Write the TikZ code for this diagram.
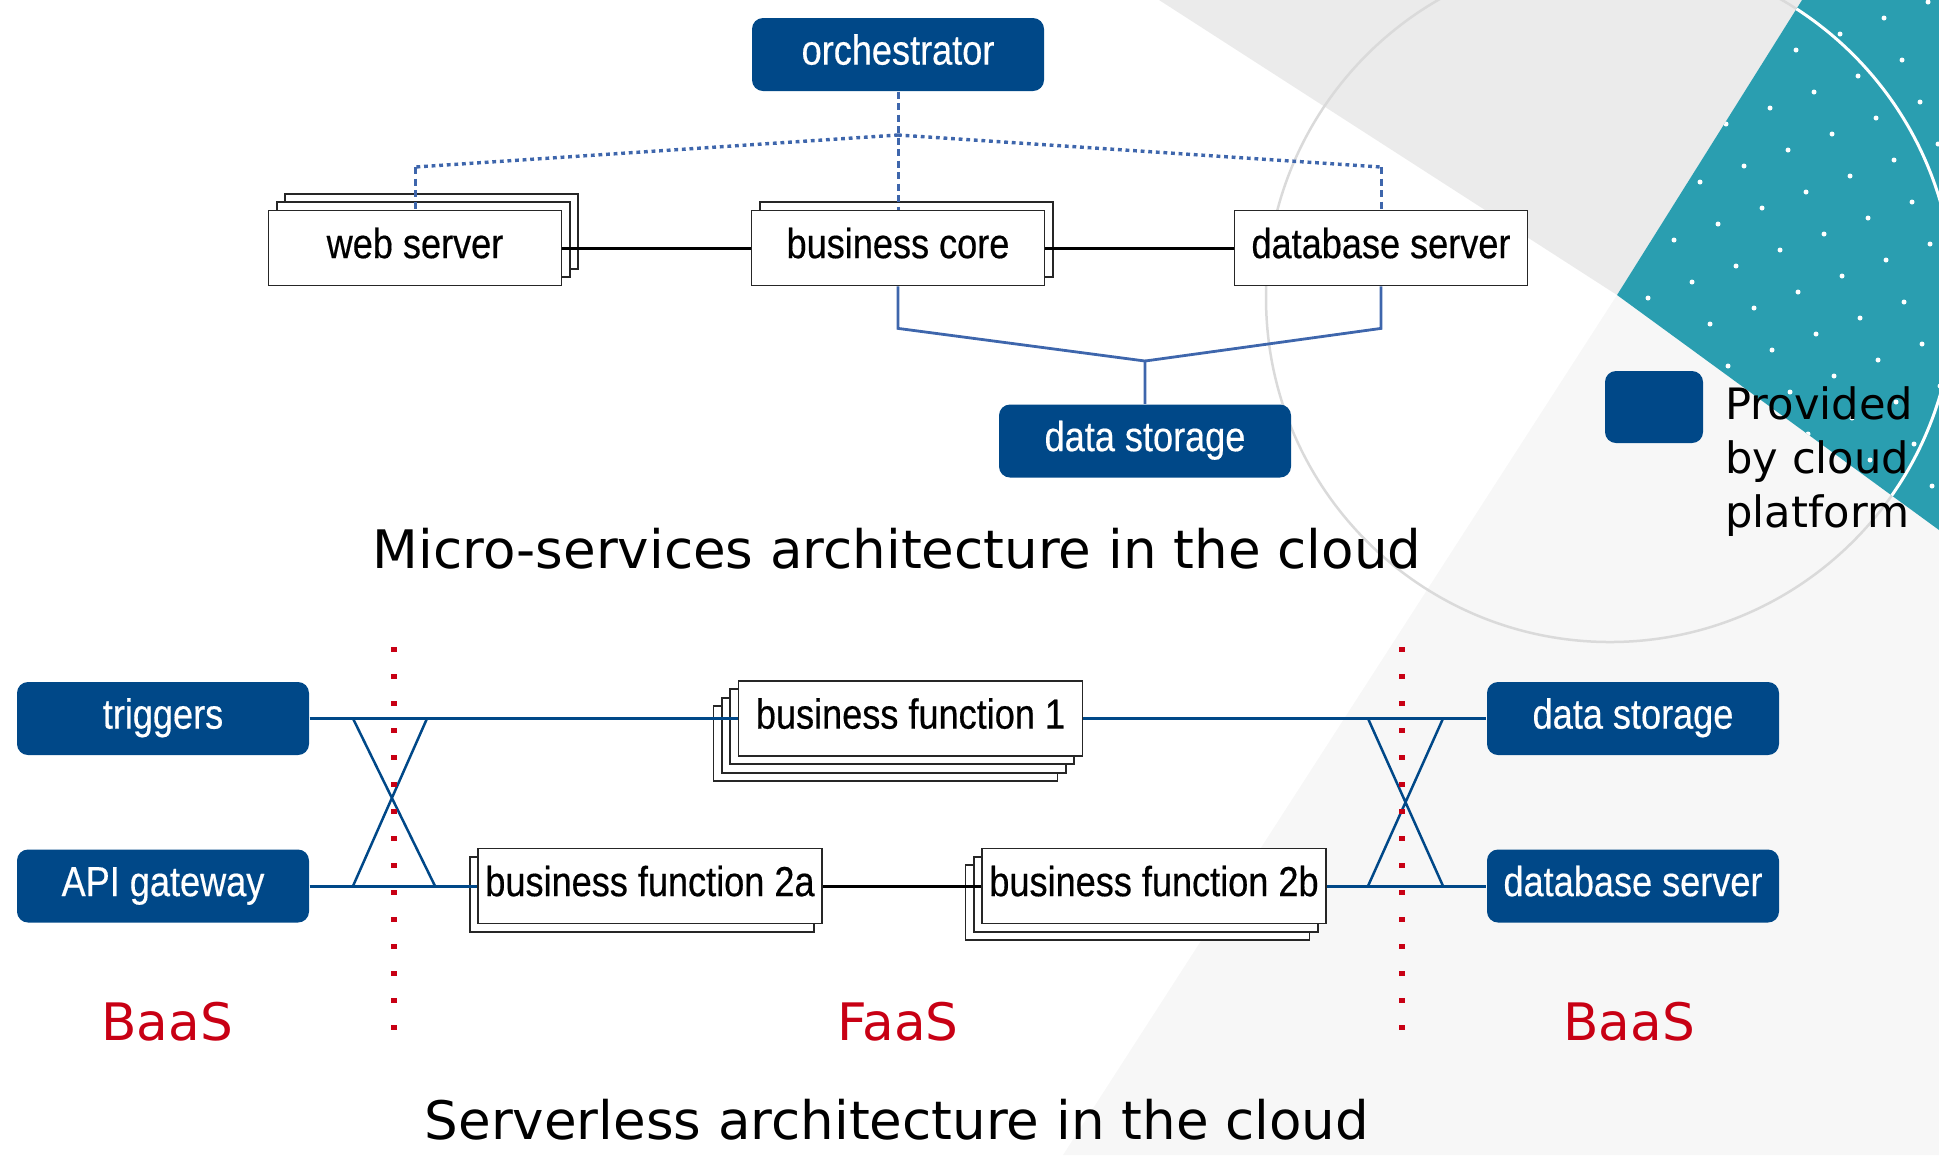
\documentclass[tikz,border=0pt]{standalone}
\usepackage{fontspec}
\setmainfont{DejaVu Sans}
\newfontfamily\narrowfont[FakeStretch=0.86,FakeBold=0.4]{Liberation Sans}
\usetikzlibrary{shadows}
\definecolor{cloudblue}{RGB}{0,72,136}
\definecolor{linkblue}{RGB}{62,102,172}
\definecolor{baasred}{RGB}{200,0,20}
\definecolor{wedgeteal}{RGB}{42,158,176}
\definecolor{paleback}{RGB}{247,247,247}
\definecolor{topgrey}{RGB}{235,235,235}
\definecolor{ringgrey}{RGB}{218,218,218}
\newcommand\boxtext{\narrowfont\fontsize{11.95pt}{14pt}\selectfont}
\tikzstyle{box} = [draw=black!85, fill=white, line width=0.5pt, minimum width=29.3mm, minimum height=7.5mm, inner sep=0pt, font=\boxtext, text height=3.07mm, text depth=1.05mm]
\tikzstyle{wide} = [box, minimum width=34.4mm]
\tikzstyle{cloud} = [fill=cloudblue, text=white, rounded corners=1.1mm, minimum width=29.2mm, minimum height=7.3mm, inner sep=0pt, font=\boxtext, text height=3.07mm, text depth=1.05mm]
\tikzstyle{up1} = [copy shadow={shadow xshift=0.83mm, shadow yshift=0.83mm}]
\tikzstyle{up2} = [copy shadow={shadow xshift=1.66mm, shadow yshift=1.66mm}, copy shadow={shadow xshift=0.83mm, shadow yshift=0.83mm}]
\tikzstyle{down1} = [copy shadow={shadow xshift=-0.83mm, shadow yshift=-0.83mm}]
\tikzstyle{down2} = [copy shadow={shadow xshift=-1.66mm, shadow yshift=-1.66mm}, down1]
\tikzstyle{down3} = [copy shadow={shadow xshift=-2.49mm, shadow yshift=-2.49mm}, down2]
\tikzstyle{ctrl} = [draw=linkblue, line width=0.3mm, dash pattern=on 0.7mm off 0.45mm]
\tikzstyle{ctrlfine} = [draw=linkblue, line width=0.34mm, dash pattern=on 0.38mm off 0.38mm]
\tikzstyle{storage} = [draw=linkblue, line width=0.28mm]
\tikzstyle{call} = [draw=black, line width=0.3mm]
\tikzstyle{flow} = [draw=cloudblue, line width=0.3mm]
\tikzstyle{cross} = [draw=cloudblue, line width=0.25mm]
\tikzstyle{sep} = [draw=baasred, line width=0.55mm, dash pattern=on 0.5mm off 2.2mm]
\tikzstyle{caption} = [font=\fontsize{15.1pt}{18pt}\selectfont, anchor=base]
\tikzstyle{tier} = [font=\fontsize{14.7pt}{18pt}\selectfont, text=baasred, anchor=base]

\begin{document}
\begin{tikzpicture}[x=0.1mm,y=-0.1mm]
  \useasboundingbox (0,0) rectangle (1939,1155);
  \fill[paleback] (1617,295) -- (1939,530) -- (1939,1155) -- (1063,1155) -- cycle;
  \fill[topgrey] (1159,0) -- (1802,0) -- (1617,295) -- cycle;
  \draw[ringgrey, line width=0.25mm] (1610,298) circle (34.4mm);
  \begin{scope}
    \clip (1802,0) -- (1939,0) -- (1939,530) -- (1617,295) -- cycle;
    \fill[wedgeteal] (1600,0) rectangle (1939,540);
    \foreach \i in {-8,...,8}
      \foreach \j in {-8,...,8}
        \fill[white] ({1780+\i*44+\j*18},{250-\i*16+\j*42}) circle (0.25mm);
    \draw[white, line width=0.3mm] (1610,298) circle (34.4mm);
  \end{scope}

  \node (a) at (898,54.5) [cloud] {orchestrator};
  \node (b) at (415,248) [box, up2] {web server};
  \node (c) at (898,248) [box, up1] {business core};
  \node (d) at (1381,248) [box] {database server};
  \node (e) at (1145,441) [cloud] {data storage};
  \node (f) at (163,718.5) [cloud] {triggers};
  \node (g) at (163,886) [cloud] {API gateway};
  \node (h) at (910.5,718.5) [wide, down3] {business function 1};
  \node (i) at (650,886) [wide, down1] {business function 2a};
  \node (j) at (1154,886) [wide, down2] {business function 2b};
  \node (k) at (1633,718.5) [cloud] {data storage};
  \node (l) at (1633,886) [cloud] {database server};
  \node (m) at (1654,407) [cloud, minimum width=9.8mm, minimum height=7.2mm] {};
  \node (n) at (1713,462) [anchor=west, align=left, font=\fontsize{12.3pt}{15.36pt}\selectfont] {Provided\\by cloud\\platform};
  \node (o) at (897,568) [caption] {Micro-services architecture in the cloud};
  \node (p) at (897,1139) [caption] {Serverless architecture in the cloud};
  \node (q) at (167,1040) [tier] {BaaS};
  \node (r) at (898,1040) [tier] {FaaS};
  \node (s) at (1629,1040) [tier] {BaaS};

  \coordinate (t) at (898,135);
  \coordinate (u) at (1145,361);
  \coordinate (v) at (415,167);
  \coordinate (w) at (1381,167);
  \draw[ctrl] (a) -- (c);
  \draw[ctrlfine] (t) -- (v);
  \draw[ctrlfine] (t) -- (w);
  \draw[ctrl] (v) -- (b);
  \draw[ctrl] (w) -- (d);
  \draw[call] (b) -- (c);
  \draw[call] (c) -- (d);
  \draw[storage] (c.south) -- ++(0,42) -- (u) -- (e);
  \draw[storage] (d.south) -- ++(0,42) -- (u);

  \draw[flow] (f) -- (h);
  \draw[flow] (g) -- (i);
  \draw[flow] (h) -- (k);
  \draw[flow] (j) -- (l);
  \draw[call] (i) -- (j);
  \draw[cross] (353,718.5) -- (435,886) (427,718.5) -- (353,886);
  \draw[cross] (1368,718.5) -- (1443,886) (1443,718.5) -- (1368,886);
  \draw[sep] (394,647) -- (394,1035);
  \draw[sep] (1402,647) -- (1402,1035);
\end{tikzpicture}
\end{document}
